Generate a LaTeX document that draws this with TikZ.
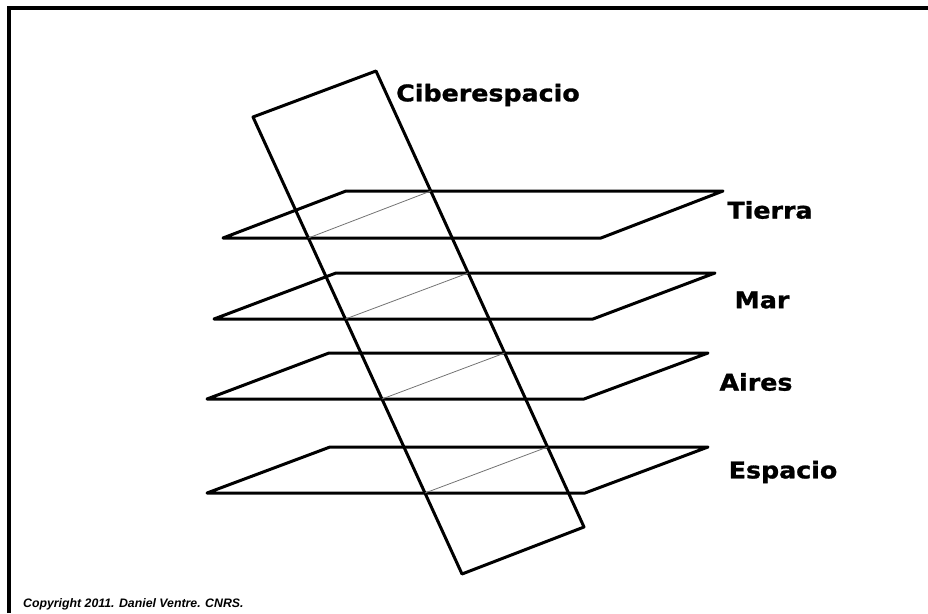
\documentclass[tikz,border=0pt]{standalone}
\usepackage{fontspec}
\newfontfamily\labfont[FakeStretch=1.1, BoldFeatures={FakeBold=1.2}]{DejaVu Sans}
\newfontfamily\notefont{Liberation Sans}
\usetikzlibrary{positioning}

\begin{document}
\begin{tikzpicture}[
  x=1pt, y=-1pt,
  edge/.style={line width=3pt, line join=round},
  trace/.style={line width=0.8pt, black!55},
  lab/.style={font=\labfont\bfseries\fontsize{23}{25}\selectfont, inner sep=0pt},
  note/.style={font=\notefont\bfseries\itshape\fontsize{12.3}{14}\selectfont, inner sep=0pt, anchor=west}]
\useasboundingbox (0,0) rectangle (928,613);
% --- frame (cut at right and bottom)
\coordinate (fbl) at (9,613);
\coordinate (ftl) at (9,8);
\coordinate (ftr) at (928,8);
\draw[line width=3.5pt] (fbl) -- (ftl) -- (ftr);
% --- tilted plane
\coordinate (ctl) at (253,117);
\coordinate (ctr) at (376,71);
\coordinate (cbr) at (584,527);
\coordinate (cbl) at (462,574);
\draw[edge] (ctl) -- (ctr) -- (cbr) -- (cbl) -- cycle;
\node[lab] (ciber) at (488,95) {Ciberespacio};
% --- Tierra
\coordinate (tfl) at (223,238);
\coordinate (tfr) at (601,238);
\coordinate (tbr) at (723,191);
\coordinate (tbl) at (346,191);
\draw[edge] (tfl) -- (tfr) -- (tbr) -- (tbl) -- cycle;
\draw[trace] (intersection of ctl--cbl and tfl--tfr) -- (intersection of ctr--cbr and tbl--tbr);
\node[lab] (tierra) at (770,210) {Tierra};
% --- Mar
\coordinate (mfl) at (214,319);
\coordinate (mfr) at (593,319);
\coordinate (mbr) at (715,273);
\coordinate (mbl) at (336,273);
\draw[edge] (mfl) -- (mfr) -- (mbr) -- (mbl) -- cycle;
\draw[trace] (intersection of ctl--cbl and mfl--mfr) -- (intersection of ctr--cbr and mbl--mbr);
\node[lab] (mar) at (762,300) {Mar};
% --- Aires
\coordinate (afl) at (207,399);
\coordinate (afr) at (584,399);
\coordinate (abr) at (708,353);
\coordinate (abl) at (329,353);
\draw[edge] (afl) -- (afr) -- (abr) -- (abl) -- cycle;
\draw[trace] (intersection of ctl--cbl and afl--afr) -- (intersection of ctr--cbr and abl--abr);
\node[lab] (aires) at (756,382) {Aires};
% --- Espacio
\coordinate (efl) at (207,493);
\coordinate (efr) at (585,493);
\coordinate (ebr) at (708,447);
\coordinate (ebl) at (330,447);
\draw[edge] (efl) -- (efr) -- (ebr) -- (ebl) -- cycle;
\draw[trace] (intersection of ctl--cbl and efl--efr) -- (intersection of ctr--cbr and ebl--ebr);
\node[lab] (espacio) at (783,472) {Espacio};
% --- credit line
\node[note] (credit) at (23,604) {Copyright 2011. Daniel Ventre. CNRS.};
\end{tikzpicture}
\end{document}
